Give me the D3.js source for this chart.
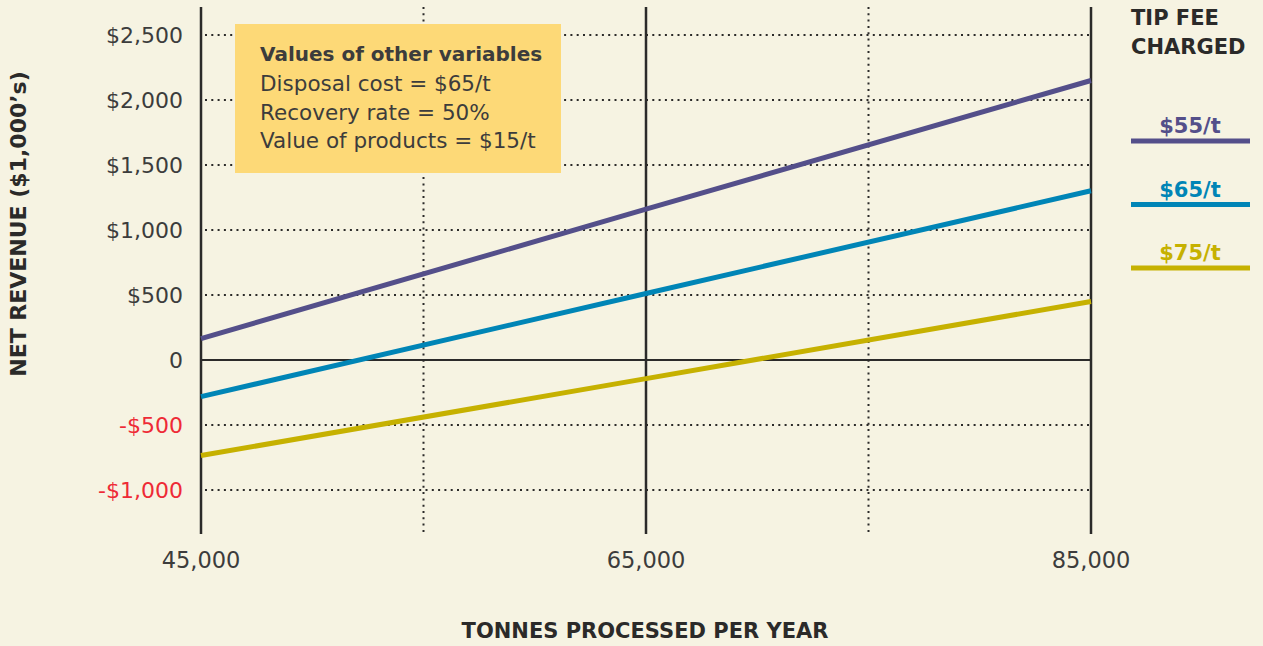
<!DOCTYPE html>
<html>
<head>
<meta charset="utf-8">
<script src="https://cdn.jsdelivr.net/npm/d3@7"></script>
<style>
  html, body { margin: 0; padding: 0; background: #f6f3e2; }
  svg { display: block; font-family: "DejaVu Sans", sans-serif; }
</style>
</head>
<body>
<div id="chart"></div>
<script>
(() => {
  // data
  const tonnes = [45000, 65000, 85000];
  const fees = ['$55/t', '$65/t', '$75/t'];
  const rev55 = [165, 1160, 2150];
  const rev65 = [-282, 512, 1302];
  const rev75 = [-735, -143, 450];
  const yTicks = [2500, 2000, 1500, 1000, 500, 0, -500, -1000];
  const yTickLabels = ['$2,500', '$2,000', '$1,500', '$1,000', '$500', '0', '-$500', '-$1,000'];
  const xMajor = [45000, 65000, 85000];
  const xMinor = [55000, 75000];
  const xTickLabels = ['45,000', '65,000', '85,000'];
  const noteLines = ['Disposal cost = $65/t', 'Recovery rate = 50%', 'Value of products = $15/t'];

  const colors = ['#544f8a', '#0085b6', '#c6b100'];
  const ink = '#2b2a29';
  const grey = '#3c3c3c';
  const W = 1263, H = 646;

  const svg = d3.select('#chart').append('svg')
    .attr('width', W).attr('height', H);

  svg.append('rect').attr('width', W).attr('height', H).attr('fill', '#f6f3e2');

  const x = d3.scaleLinear().domain([45000, 85000]).range([201, 1091]);
  const y = d3.scaleLinear().domain([0, 2500]).range([360, 35]);

  const top = 7, bottom = 534;

  // horizontal dotted grid
  svg.selectAll('.hgrid')
    .data(yTicks.filter(d => d !== 0))
    .enter().append('line')
    .attr('x1', x(45000) + 4).attr('x2', x(85000))
    .attr('y1', d => y(d)).attr('y2', d => y(d))
    .attr('stroke', ink).attr('stroke-width', 2)
    .attr('stroke-dasharray', '2 4.3');

  // vertical dotted grid
  svg.selectAll('.vgrid')
    .data(xMinor)
    .enter().append('line')
    .attr('x1', d => x(d)).attr('x2', d => x(d))
    .attr('y1', top).attr('y2', bottom)
    .attr('stroke', ink).attr('stroke-width', 2)
    .attr('stroke-dasharray', '2 4.3');

  // note box
  const box = svg.append('g');
  box.append('rect')
    .attr('x', 235).attr('y', 24).attr('width', 326).attr('height', 149)
    .attr('fill', '#fdd977');
  box.append('text')
    .attr('x', 260).attr('y', 61)
    .attr('font-size', 20).attr('font-weight', 700).attr('fill', grey)
    .text('Values of other variables');
  box.selectAll('.note')
    .data(noteLines)
    .enter().append('text')
    .attr('x', 260).attr('y', (d, i) => 91 + i * 28.7)
    .attr('font-size', 21.5).attr('fill', grey)
    .text(d => d);

  // solid vertical lines
  svg.selectAll('.vmajor')
    .data(xMajor)
    .enter().append('line')
    .attr('x1', d => x(d)).attr('x2', d => x(d))
    .attr('y1', top).attr('y2', bottom)
    .attr('stroke', ink).attr('stroke-width', 2.5);

  // zero line
  svg.append('line')
    .attr('x1', x(45000)).attr('x2', x(85000))
    .attr('y1', y(0)).attr('y2', y(0))
    .attr('stroke', ink).attr('stroke-width', 2);

  // series lines
  const series = [rev55, rev65, rev75];
  const line = d3.line().x((d, i) => x(tonnes[i])).y(d => y(d));
  svg.selectAll('.series')
    .data(series)
    .enter().append('path')
    .attr('d', d => line(d))
    .attr('fill', 'none')
    .attr('stroke', (d, i) => colors[i])
    .attr('stroke-width', 5);

  // y tick labels
  svg.selectAll('.ylab')
    .data(yTicks)
    .enter().append('text')
    .attr('x', 183).attr('y', d => y(d))
    .attr('dy', '0.36em')
    .attr('text-anchor', 'end')
    .attr('font-size', 22)
    .attr('fill', d => d < 0 ? '#ee2a36' : grey)
    .text((d, i) => yTickLabels[i]);

  // x tick labels
  svg.selectAll('.xlab')
    .data(xMajor)
    .enter().append('text')
    .attr('x', d => x(d)).attr('y', 568)
    .attr('text-anchor', 'middle')
    .attr('font-size', 22.5).attr('fill', grey)
    .text((d, i) => xTickLabels[i]);

  // axis titles
  svg.append('text')
    .attr('x', 645).attr('y', 638)
    .attr('text-anchor', 'middle')
    .attr('font-size', 21).attr('font-weight', 700).attr('fill', ink)
    .text('TONNES PROCESSED PER YEAR');

  svg.append('text')
    .attr('transform', 'translate(26,224) rotate(-90)')
    .attr('text-anchor', 'middle')
    .attr('font-size', 22).attr('font-weight', 700).attr('fill', ink)
    .text('NET REVENUE ($1,000\u2019s)');

  // legend
  const lg = svg.append('g');
  lg.append('text').attr('x', 1131).attr('y', 25)
    .attr('font-size', 21).attr('font-weight', 700).attr('fill', ink)
    .text('TIP FEE');
  lg.append('text').attr('x', 1131).attr('y', 54)
    .attr('font-size', 21).attr('font-weight', 700).attr('fill', ink)
    .text('CHARGED');

  const legItems = lg.selectAll('.leg')
    .data(fees)
    .enter().append('g')
    .attr('transform', (d, i) => `translate(0,${141 + i * 63.5})`);
  legItems.append('line')
    .attr('x1', 1131).attr('x2', 1250)
    .attr('y1', 0).attr('y2', 0)
    .attr('stroke', (d, i) => colors[i]).attr('stroke-width', 5);
  legItems.append('text')
    .attr('x', 1190).attr('y', -8)
    .attr('text-anchor', 'middle')
    .attr('font-size', 21).attr('font-weight', 700)
    .attr('fill', (d, i) => colors[i])
    .text(d => d);
})();
</script>
</body>
</html>
